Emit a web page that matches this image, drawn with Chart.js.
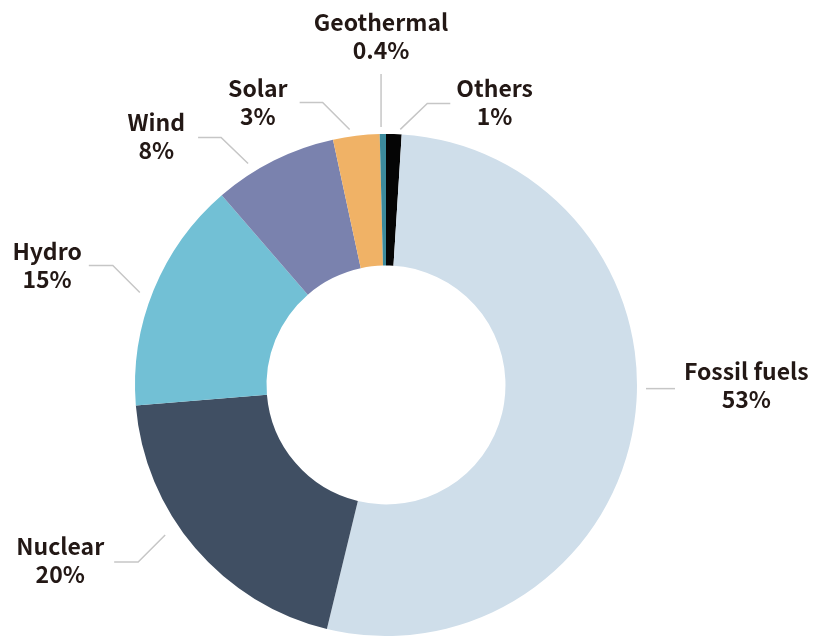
<!DOCTYPE html>
<html>
<head>
<meta charset="utf-8">
<script src="https://cdn.jsdelivr.net/npm/chart.js@4.4.1/dist/chart.umd.min.js"></script>
<style>
  html, body { margin: 0; padding: 0; background: #fff; }
  #grafico { display: block; }
</style>
</head>
<body>
<canvas id="grafico" width="814" height="636"></canvas>
<script>
// Datos, en sentido horario desde las 12
const fuentes = ['Others', 'Fossil fuels', 'Nuclear', 'Hydro', 'Wind', 'Solar', 'Geothermal'];
const porcentajes = [1, 53, 20, 15, 8, 3, 0.4];
const colores = ['#050505', '#cfdeea', '#404f63', '#72c0d5', '#7a82ae', '#f0b266', '#3c8a9c'];

// Lineas guia: angulo en el anillo (grados desde arriba), separacion, tramo diagonal (dx, dy),
// tramo horizontal, separacion hasta el texto, ajuste vertical del texto
const guias = [
  [3.2, 5, 27, -26, 23, 6, 0],
  [90.8, 9, 0, 0, 29, 9, -3],
  [235.8, 16, -27, 27, -24, 10, -1],
  [290.6, 12, -27, -27, -24, 7, 1],
  [328.1, 10, -27, -26, -23, 13, 0],
  [351.9, 7, -27, -27, -23, 12, 0],
  [358.9, 7, 0, -53, 0, 23, 0]
];

// Plugin para las etiquetas exteriores
const etiquetasExternas = {
  id: 'etiquetasExternas',
  afterDraw(chart) {
    const ctx = chart.ctx;
    const arcos = chart.getDatasetMeta(0).data;
    ctx.save();
    ctx.lineWidth = 1.5;
    ctx.strokeStyle = '#c6c6c6';
    ctx.font = 'bold 23px "Noto Sans CJK JP", "Noto Sans", sans-serif';
    ctx.fillStyle = '#231815';
    ctx.textAlign = 'center';
    ctx.textBaseline = 'alphabetic';
    arcos.forEach((arco, i) => {
      const [ang, sep, dx, dy, hx, tsep, ajuste] = guias[i];
      const a = ang * Math.PI / 180;
      const r = arco.outerRadius + sep;
      const x0 = arco.x + r * Math.sin(a), y0 = arco.y - r * Math.cos(a);
      const x1 = x0 + dx, y1 = y0 + dy, x2 = x1 + hx;
      ctx.beginPath();
      ctx.moveTo(x0, y0);
      ctx.lineTo(x1, y1);
      ctx.lineTo(x2, y1);
      ctx.stroke();

      const valor = porcentajes[i] + '%';
      const w = Math.max(ctx.measureText(fuentes[i]).width, ctx.measureText(valor).width);
      let cx, cy;
      if (hx > 0) { cx = x2 + tsep + w / 2; cy = y1 - 14; }
      else if (hx < 0) { cx = x2 - tsep - w / 2; cy = y1 - 14; }
      else { cx = x1; cy = y1 - tsep - 28; }
      cy += ajuste;
      ctx.fillText(fuentes[i], cx, cy + 8);
      ctx.fillText(valor, cx, cy + 28 + 8);
    });
    ctx.restore();
  }
};

const migrafico = document.getElementById('grafico');

new Chart(migrafico, {
  type: 'doughnut',
  data: {
    labels: fuentes,
    datasets: [{
      data: porcentajes,
      backgroundColor: colores,
      borderWidth: 0
    }]
  },
  options: {
    responsive: false,
    animation: false,
    events: [],
    cutout: '47.6%',
    layout: {
      padding: { left: 135, top: 134, right: 177, bottom: 0 }
    },
    plugins: {
      legend: { display: false },
      tooltip: { enabled: false }
    }
  },
  plugins: [etiquetasExternas]
});
</script>
</body>
</html>
